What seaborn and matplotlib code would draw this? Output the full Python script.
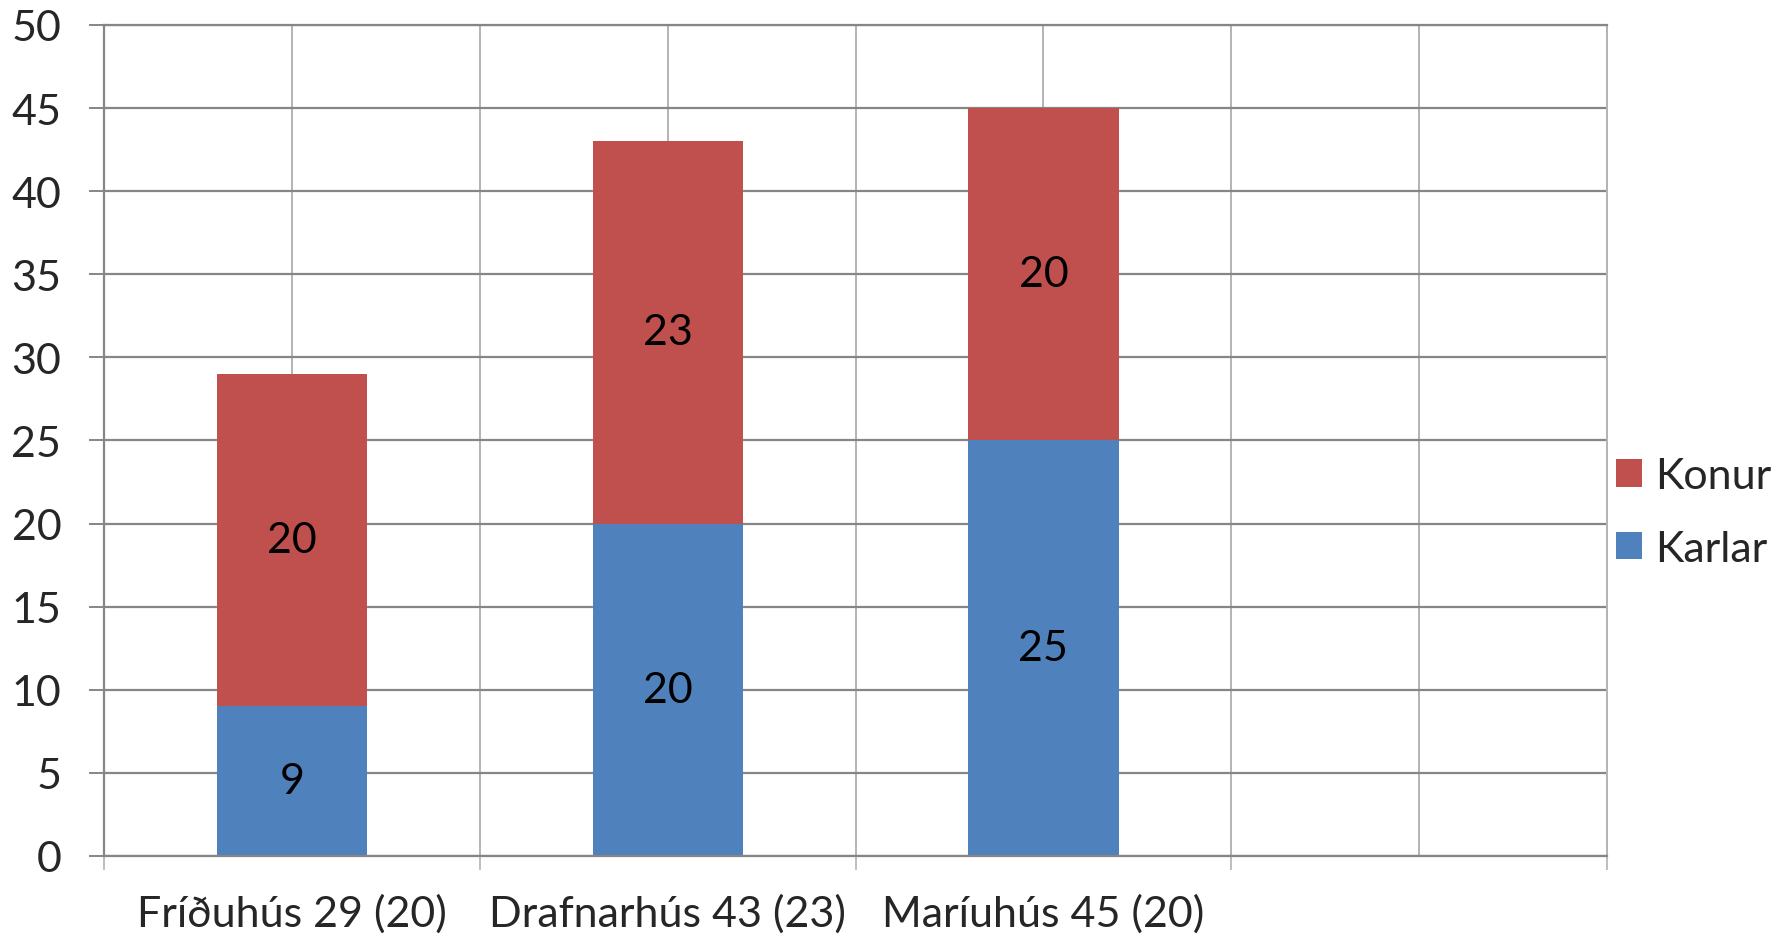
import matplotlib
matplotlib.use("Agg")
import matplotlib.pyplot as plt
import pandas as pd
import seaborn as sns

# data
hus = ["Fríðuhús 29 (20)", "Drafnarhús 43 (23)", "Maríuhús 45 (20)"]
karlar = [9, 20, 25]
konur = [20, 23, 20]
y_ticks = [0, 5, 10, 15, 20, 25, 30, 35, 40, 45, 50]

RED = "#C0504D"
BLUE = "#4F81BD"
DARK = "#868686"
LIGHT = "#B3B3B3"
FS = 31

sns.set_theme(style="white")
plt.rcParams["font.family"] = ["Lato", "DejaVu Sans"]

df = pd.DataFrame({"hus": hus, "karlar": karlar, "konur": konur})
df["total"] = df["karlar"] + df["konur"]

fig = plt.figure(figsize=(17.88, 9.37), dpi=100)
ax = fig.add_axes([0.0582, 0.0854, 0.8406, 0.8869])

# stacked look: totals in red, men drawn over them in blue
sns.barplot(data=df, x="hus", y="total", color=RED, width=0.4,
            saturation=1, linewidth=0, ax=ax, label="Konur")
sns.barplot(data=df, x="hus", y="karlar", color=BLUE, width=0.4,
            saturation=1, linewidth=0, ax=ax, label="Karlar")
if ax.get_legend() is not None:
    ax.get_legend().remove()

# segment labels
ax.bar_label(ax.containers[1], labels=[str(v) for v in karlar],
             label_type="center", fontsize=FS, color="black")
for i, (k, w) in enumerate(zip(karlar, konur)):
    ax.text(i, k + w / 2, str(w), ha="center", va="center",
            fontsize=FS, color="black")

# axes: four category slots, the last one empty
ax.set_xlim(-0.5, 3.5)
ax.set_ylim(0, 50)
ax.set_yticks(y_ticks)
ax.set_xticks(range(4))
ax.set_xticklabels(hus + [""])
ax.set_xticks([i - 0.5 for i in range(5)], minor=True)
ax.set_xlabel("")
ax.set_ylabel("")

ax.set_axisbelow(True)
ax.grid(axis="y", color=DARK, lw=1.6)
ax.grid(axis="x", which="both", color=LIGHT, lw=1.4)

ax.tick_params(axis="y", length=10.8, width=1.4, color=DARK,
               left=True, pad=20, labelsize=FS)
ax.tick_params(axis="x", which="major", length=0, pad=27, labelsize=FS)
ax.tick_params(axis="x", which="minor", length=10, width=1.2,
               color=LIGHT, bottom=True)

for side in ["left", "bottom", "top"]:
    ax.spines[side].set_color(DARK)
    ax.spines[side].set_linewidth(1.6)
ax.spines["right"].set_color(LIGHT)
ax.spines["right"].set_linewidth(1.4)

h, l = ax.get_legend_handles_labels()
fig.legend(h, l, loc="center left", bbox_to_anchor=(0.904, 0.452),
           frameon=False, fontsize=FS, handlelength=0.6, handleheight=0.6,
           handletextpad=0.3, labelspacing=0.8, borderpad=0,
           borderaxespad=0)

fig.savefig("out.png", dpi=100)
